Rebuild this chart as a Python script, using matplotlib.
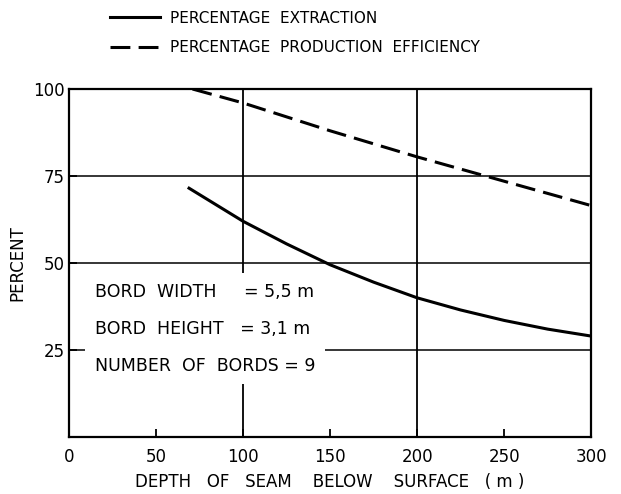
import matplotlib
matplotlib.use("Agg")
import matplotlib.pyplot as plt
import numpy as np

depth_extraction = [69, 100, 125, 150, 175, 200, 225, 250, 275, 300]
pct_extraction = [71.5, 62, 55.5, 49.5, 44.5, 40, 36.5, 33.5, 31, 29]
depth_efficiency = [71, 100, 150, 200, 250, 300]
pct_efficiency = [100, 96, 88, 80.5, 73.5, 66.5]

x_ticks = [0, 50, 100, 150, 200, 250, 300]
y_ticks = [25, 50, 75, 100]
legend_labels = ["PERCENTAGE  EXTRACTION", "PERCENTAGE  PRODUCTION  EFFICIENCY"]
info_lines = ["BORD  WIDTH     = 5,5 m", "BORD  HEIGHT   = 3,1 m", "NUMBER  OF  BORDS = 9"]

plt.rcParams['font.family'] = ['DejaVu Sans']
fig = plt.figure(figsize=(6.21, 4.94), dpi=100)
ax = fig.add_axes([0.111, 0.1154, 0.841, 0.7044])

ax.set_xlim(0, 300)
ax.set_ylim(0, 100)

# grid lines
for gx in [100, 200]:
    ax.axvline(gx, color='black', lw=1.3, zorder=1)
for gy in [25, 50, 75]:
    ax.axhline(gy, color='black', lw=1.1, zorder=1)

l1, = ax.plot(depth_extraction, pct_extraction, color='black', lw=2.2, zorder=3,
              label=legend_labels[0])
l2, = ax.plot(depth_efficiency, pct_efficiency, color='black', lw=2.2, zorder=3,
              label=legend_labels[1])
l2.set_dashes([6.5, 2.7])

for s in ax.spines.values():
    s.set_linewidth(1.6)

ax.set_xticks(x_ticks)
ax.set_xticklabels([str(v) for v in x_ticks], fontsize=12)
ax.set_yticks(y_ticks)
ax.set_yticklabels([str(v) for v in y_ticks], fontsize=12)
ax.tick_params(axis='x', direction='in', length=6, width=1.3, pad=8)
ax.tick_params(axis='y', direction='in', length=6, width=1.3, pad=3)

ax.set_xlabel("DEPTH   OF   SEAM    BELOW    SURFACE   ( m )", fontsize=12, labelpad=5)
ax.set_ylabel("PERCENT", fontsize=12, labelpad=5)

# info text with white background breaking grid lines
ax.text(15, 44.3, "\n".join(info_lines), fontsize=12.5, va='top', ha='left',
        linespacing=2.35, zorder=2,
        bbox=dict(facecolor='white', edgecolor='none', pad=7))

fig.legend(handles=[l1, l2], loc='upper left', bbox_to_anchor=(0.155, 1.006),
           frameon=False, fontsize=11, handlelength=3.3, handletextpad=0.6,
           labelspacing=0.95)

fig.savefig("out.png", dpi=100)
